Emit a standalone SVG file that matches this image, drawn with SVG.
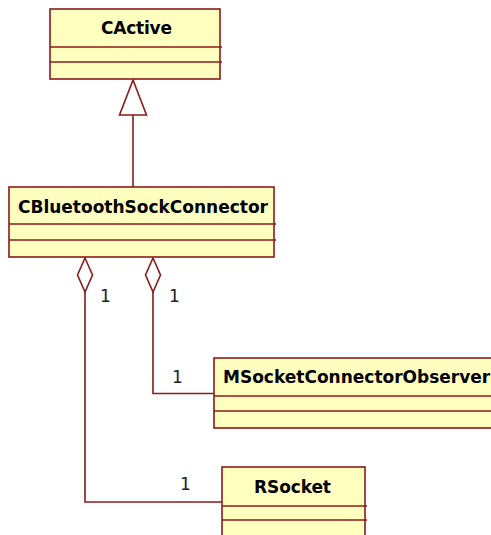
<svg xmlns="http://www.w3.org/2000/svg" width="491" height="535" viewBox="0 0 491 535">
  <style>
    .box { fill: #FFFFC0; stroke: #8B1A1A; stroke-width: 1.6; }
    .sep { stroke: #8B1A1A; stroke-width: 1.6; fill: none; }
    .name { font-family: "DejaVu Sans", Verdana, sans-serif; font-weight: bold; font-size: 17px; fill: #000; }
    .line { stroke: #8B1A1A; stroke-width: 1.6; fill: none; }
    .head { stroke: #8B1A1A; stroke-width: 1.6; fill: #FFFFFF; }
    .mult { font-family: "DejaVu Sans", Verdana, sans-serif; font-size: 17px; fill: #222; }
  </style>

  <!-- connectors -->
  <g id="connectors">
    <!-- generalization: CBluetoothSockConnector -> CActive -->
    <line class="line" x1="133" y1="115" x2="133" y2="187"/>
    <polygon class="head" points="133,80 119.5,115 146.5,115"/>
    <!-- aggregation: CBluetoothSockConnector <>- RSocket -->
    <polyline class="line" points="85,292 85,502 222,502"/>
    <polygon class="head" points="85,258 92.5,275 85,292 77.5,275"/>
    <text class="mult" x="100" y="302">1</text>
    <text class="mult" x="180" y="490">1</text>
    <!-- aggregation: CBluetoothSockConnector <>- MSocketConnectorObserver -->
    <polyline class="line" points="153,292 153,393.5 214,393.5"/>
    <polygon class="head" points="153,258 160.5,275 153,292 145.5,275"/>
    <text class="mult" x="169" y="302">1</text>
    <text class="mult" x="172" y="383">1</text>
  </g>

  <g id="CActive">
    <rect class="box" x="50" y="9" width="170" height="70"/>
    <line class="sep" x1="50" y1="47" x2="222" y2="47"/>
    <line class="sep" x1="50" y1="62" x2="222" y2="62"/>
    <text class="name" x="101" y="34" textLength="71" lengthAdjust="spacing">CActive</text>
  </g>

  <g id="CBluetoothSockConnector">
    <rect class="box" x="9" y="187" width="265" height="70"/>
    <line class="sep" x1="9" y1="224" x2="276" y2="224"/>
    <line class="sep" x1="9" y1="240" x2="276" y2="240"/>
    <text class="name" x="18" y="213" textLength="250" lengthAdjust="spacing">CBluetoothSockConnector</text>
  </g>

  <g id="MSocketConnectorObserver">
    <rect class="box" x="214" y="358" width="300" height="70"/>
    <line class="sep" x1="214" y1="396" x2="514" y2="396"/>
    <line class="sep" x1="214" y1="411" x2="514" y2="411"/>
    <text class="name" x="223" y="383">MSocketConnectorObserver</text>
  </g>

  <g id="RSocket">
    <rect class="box" x="222" y="467" width="143" height="80"/>
    <line class="sep" x1="222" y1="506" x2="367" y2="506"/>
    <line class="sep" x1="222" y1="520" x2="367" y2="520"/>
    <text class="name" x="254" y="493" textLength="77" lengthAdjust="spacing">RSocket</text>
  </g>
</svg>
